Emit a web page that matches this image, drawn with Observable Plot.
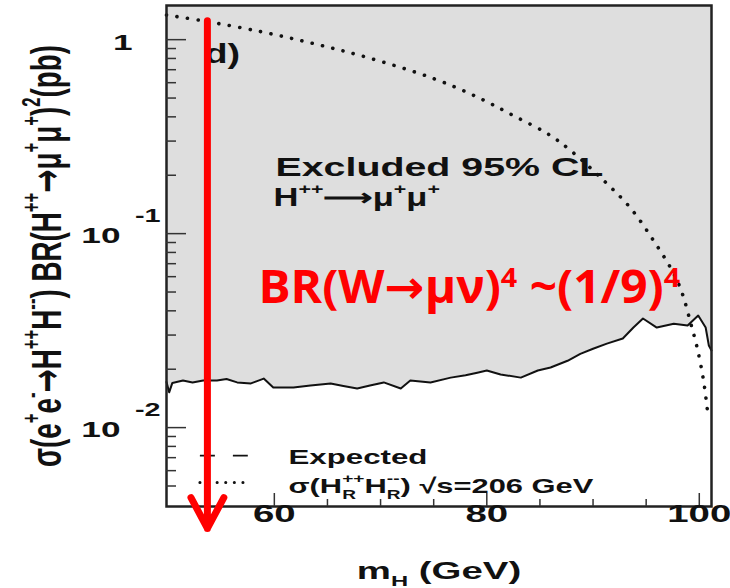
<!DOCTYPE html>
<html>
<head>
<meta charset="utf-8">
<script src="https://cdn.jsdelivr.net/npm/d3@7"></script>
<script src="https://cdn.jsdelivr.net/npm/@observablehq/plot@0.6"></script>
<style>
  html, body { margin: 0; padding: 0; background: #fff; }
  #chart svg { display: block; overflow: hidden; }
</style>
</head>
<body>
<div id="chart"></div>
<script>
// ---------- data ----------
const observedMass = [49.85, 50.1, 50.4, 51.4, 52.3, 53.3, 54.6, 55.5, 56.5, 57.8, 59.0, 59.9, 61.8, 63.4, 65.3, 66.5, 67.8, 69.0, 70.3, 71.9, 72.8, 74.7, 76.6, 78.0, 79.1, 80.0, 81.3, 83.2, 84.8, 86.0, 87.6, 88.8, 90.0, 91.3, 92.8, 93.8, 94.7, 96.0, 97.6, 98.9, 99.9, 100.6, 100.9, 101.15];
const observedLimit = [0.0172, 0.0152, 0.0170, 0.0175, 0.0171, 0.0175, 0.0175, 0.0178, 0.0171, 0.0169, 0.0179, 0.0161, 0.0161, 0.0165, 0.0169, 0.0164, 0.0159, 0.0165, 0.0171, 0.0159, 0.0175, 0.0171, 0.0181, 0.0186, 0.0192, 0.0197, 0.0188, 0.0181, 0.0197, 0.0204, 0.0221, 0.0240, 0.0255, 0.0271, 0.0288, 0.0328, 0.0365, 0.0328, 0.0343, 0.0336, 0.0378, 0.0328, 0.0265, 0.0250];

const theoryMass = [49.85, 53.3, 58.7, 63.7, 68.8, 75.0, 79.4, 82.5, 85.7, 87.9, 91.0, 93.5, 95.7, 97.6, 98.4, 99.2, 99.8, 100.4, 100.8];
const theoryXsec = [1.34, 1.25, 1.10, 0.954, 0.808, 0.630, 0.497, 0.406, 0.328, 0.268, 0.188, 0.136, 0.092, 0.0622, 0.0491, 0.0344, 0.0258, 0.0175, 0.0118];

const xDomain = [49.85, 101.15];
const yDomain = [0.00392, 1.5];

const xMajorTicks = [60, 80, 100];
const xMinorTicks = [55, 65, 70, 75, 85, 90, 95];
const yMajorTicks = [1, 0.1, 0.01];
const yTickBase = ["1", "10", "10"];
const yTickExp = ["", "-1", "-2"];
const yMinorTicks = [0.9, 0.8, 0.7, 0.6, 0.5, 0.4, 0.3, 0.2,
                     0.09, 0.08, 0.07, 0.06, 0.05, 0.04, 0.03, 0.02,
                     0.009, 0.008, 0.007, 0.006, 0.005];

// red annotation arrow (mass, from, to)
const arrowMass = [53.7];
const arrowFrom = [1.25];
const arrowTo = [0.00302];

// legend samples
const legendLabels = ["Expected", "σ(H_{R}^{++}H_{R}^{--}) √s=206 GeV"];
const legendY = [0.00717, 0.00521];
const legendX1 = 53.04, legendX2 = 57.55;

const xTitle = "m_{H} (GeV)";
const yTitle = "σ(e^{+}e^{-}→H^{++}H^{--}) BR(H^{++}→μ^{+}μ^{+})^{2}(pb)";
const panelLabel = "d)";
const excludedLabel = "Excluded 95% CL";
const channelLabel = "H^{++}⟶μ^{+}μ^{+}";
const redLabel = "BR(W→μν)^{4} ~(1/9)^{4}";

// ---------- tables ----------
const observed = observedMass.map((m, i) => ({m, limit: observedLimit[i]}));
const theory = theoryMass.map((m, i) => ({m, xsec: theoryXsec[i]}));
const yTicks = yMajorTicks.map((v, i) => ({v, base: yTickBase[i], exp: yTickExp[i]}));
const arrows = arrowMass.map((m, i) => ({m, from: arrowFrom[i], to: arrowTo[i]}));

const W = 730, H = 588;
const mL = 166, mR = 19, mT = 5, mB = 82;
const innerW = W - mL - mR;
const innerH = H - mT - mB;
const ink = "#111";
const bold = "bold";

const svg = Plot.plot({
  width: W, height: H,
  marginLeft: mL, marginRight: mR, marginTop: mT, marginBottom: mB,
  style: {background: "#fff", fontFamily: "'Liberation Sans', Arial, sans-serif", overflow: "hidden"},
  x: {domain: xDomain, axis: null},
  y: {type: "log", domain: yDomain, axis: null},
  marks: [
    Plot.areaY(observed, {x: "m", y1: "limit", y2: () => yDomain[1], fill: "#dedede"}),
    Plot.line(observed, {x: "m", y: "limit", stroke: ink, strokeWidth: 2}),
    Plot.line(theory, {x: "m", y: "xsec", curve: "catmull-rom", stroke: ink, strokeWidth: 3.6,
      strokeDasharray: "0.1 10.5", strokeLinecap: "round"}),
    Plot.frame({stroke: "#222", strokeWidth: 2.5}),
    // ticks pointing inward
    Plot.tickY(yMajorTicks, {y: d => d, insetRight: innerW - 20, stroke: "#333", strokeWidth: 1.5}),
    Plot.tickY(yMinorTicks, {y: d => d, insetRight: innerW - 10, stroke: "#333", strokeWidth: 1.5}),
    Plot.tickX(xMajorTicks, {x: d => d, insetTop: innerH - 13, stroke: "#333", strokeWidth: 1.5}),
    Plot.tickX(xMinorTicks, {x: d => d, insetTop: innerH - 7, stroke: "#333", strokeWidth: 1.5}),
    // y tick labels
    Plot.text(yTicks.filter(d => !d.exp), {y: "v", text: "base", frameAnchor: "left", textAnchor: "end",
      dx: -34, dy: 3, fontSize: 22, fontWeight: bold, fill: ink}),
    Plot.text(yTicks.filter(d => d.exp), {y: "v", text: "base", frameAnchor: "left", textAnchor: "end",
      dx: -46, dy: 2, fontSize: 22, fontWeight: bold, fill: ink}),
    Plot.text(yTicks.filter(d => d.exp), {y: "v", text: "exp", frameAnchor: "left", textAnchor: "end",
      dx: -6, dy: -17, fontSize: 18, fontWeight: bold, fill: ink}),
    // x tick labels
    Plot.text(xMajorTicks, {x: d => d, text: d => String(d), frameAnchor: "bottom", dy: 15,
      fontSize: 24, fontWeight: bold, fill: ink}),
    // axis titles
    Plot.text([xTitle], {text: d => d, frameAnchor: "bottom", dy: 72, lineAnchor: "bottom",
      fontSize: 24, fontWeight: bold, fill: ink}),
    Plot.text([yTitle], {text: d => d, frameAnchor: "left", dx: -106, rotate: -90, textAnchor: "middle",
      lineAnchor: "bottom", fontSize: 42, fontWeight: bold, fill: ink}),
    // in-plot labels
    Plot.text([panelLabel], {text: d => d, frameAnchor: "top-left", dx: 38, dy: 57, textAnchor: "start",
      lineAnchor: "bottom", fontSize: 28, fontWeight: bold, fill: ink}),
    Plot.text([excludedLabel], {text: d => d, frameAnchor: "top-left", dx: 109, dy: 170, textAnchor: "start",
      lineAnchor: "bottom", fontSize: 25, fontWeight: bold, fill: ink}),
    Plot.text([channelLabel], {text: d => d, frameAnchor: "top-left", dx: 107, dy: 200, textAnchor: "start",
      lineAnchor: "bottom", fontSize: 25, fontWeight: bold, fill: ink}),
    // legend
    Plot.ruleY([legendY[0]], {y: d => d, x1: legendX1, x2: legendX2, stroke: ink, strokeWidth: 1.6,
      strokeDasharray: "15 18"}),
    Plot.ruleY([legendY[1]], {y: d => d, x1: legendX1, x2: legendX2, stroke: ink, strokeWidth: 3,
      strokeDasharray: "0.1 8.5", strokeLinecap: "round"}),
    Plot.text([legendLabels[0]], {text: d => d, frameAnchor: "top-left", dx: 122, dy: 458, textAnchor: "start",
      lineAnchor: "bottom", fontSize: 21, fontWeight: bold, fill: ink}),
    Plot.text([legendLabels[1]], {text: d => d, frameAnchor: "top-left", dx: 122, dy: 487, textAnchor: "start",
      lineAnchor: "bottom", fontSize: 21, fontWeight: bold, fill: ink}),
    // red overlay
    Plot.text([redLabel], {text: d => d, frameAnchor: "top-left", dx: 92, dy: 297, textAnchor: "start",
      lineAnchor: "bottom", fontSize: 46, fontWeight: bold, fill: "#ff0000",
      fontFamily: "'Open Sans', 'DejaVu Sans', sans-serif"}),
    Plot.arrow(arrows, {x1: "m", y1: "from", x2: "m", y2: "to", stroke: "#ff0000", strokeWidth: 7,
      headAngle: 56, headLength: 7.5})
  ]
});

document.getElementById("chart").append(svg);

// ---------- rich text (super/subscripts) and horizontal stretch of ROOT-style labels ----------
const textConfig = {
  [yTitle]: {width: 422, supScale: 0.6, supShift: 0.5, arrowFont: "DejaVu Sans"},
  [redLabel]: {width: 422, supScale: 0.6, supShift: 0.33},
  [excludedLabel]: {width: 328},
  [channelLabel]: {width: 167, supScale: 0.62, supShift: 0.45},
  [legendLabels[0]]: {width: 139},
  [legendLabels[1]]: {width: 305, supScale: 0.62, supShift: 0.45, subScale: 0.62, subShift: 0.3},
  [xTitle]: {sx: 1.6, subScale: 0.62, subShift: 0.3},
  [panelLabel]: {sx: 1.35}
};

function parseRich(s, arrowFont) {
  const parts = [];
  const re = /([_^])\{([^}]*)\}/g;
  const pushNormal = t => {
    if (!arrowFont) { parts.push({t, k: "n"}); return; }
    for (const piece of t.split(/(→)/)) if (piece) parts.push({t: piece, k: "n", font: piece === "→" ? arrowFont : null});
  };
  let last = 0, m;
  while ((m = re.exec(s))) {
    if (m.index > last) pushNormal(s.slice(last, m.index));
    parts.push({t: m[2], k: m[1] === "^" ? "sup" : "sub"});
    last = re.lastIndex;
  }
  if (last < s.length) pushNormal(s.slice(last));
  return parts;
}

function richify(el, raw, cfg) {
  const fs = parseFloat(getComputedStyle(el).fontSize);
  const supScale = cfg.supScale ?? 0.62, supShift = (cfg.supShift ?? 0.45) * fs;
  const subScale = cfg.subScale ?? 0.62, subShift = (cfg.subShift ?? 0.28) * fs;
  el.textContent = "";
  let offset = 0, prevSub = null, pendingDx = 0;
  for (const p of parseRich(raw, cfg.arrowFont)) {
    const ts = document.createElementNS("http://www.w3.org/2000/svg", "tspan");
    ts.textContent = p.t;
    if (p.font) ts.setAttribute("font-family", p.font);
    const target = p.k === "sup" ? -supShift : p.k === "sub" ? subShift : 0;
    if (target !== offset) { ts.setAttribute("dy", target - offset); offset = target; }
    if (p.k !== "n") ts.setAttribute("font-size", (p.k === "sup" ? supScale : subScale) * fs);
    el.appendChild(ts);
    if (p.k === "sup" && prevSub) {
      const w = prevSub.getComputedTextLength();
      ts.setAttribute("dx", -w);
      pendingDx = Math.max(0, w - ts.getComputedTextLength());
    } else if (pendingDx) {
      ts.setAttribute("dx", pendingDx);
      pendingDx = 0;
    }
    prevSub = p.k === "sub" ? ts : null;
  }
}

svg.querySelectorAll("text").forEach(el => {
  const raw = el.textContent;
  const cfg = textConfig[raw] || {sx: 1.6};
  if (/[_^]\{/.test(raw)) richify(el, raw, cfg);
  const b = el.getBBox();
  if (!b.width) return;
  const sx = cfg.width ? cfg.width / b.width : cfg.sx;
  const anchor = getComputedStyle(el).textAnchor;
  const x0 = anchor === "middle" ? b.x + b.width / 2 : anchor === "end" ? b.x + b.width : b.x;
  const t = el.getAttribute("transform") || "";
  el.setAttribute("transform", `${t} translate(${x0},0) scale(${sx},1) translate(${-x0},0)`);
});
</script>
</body>
</html>
